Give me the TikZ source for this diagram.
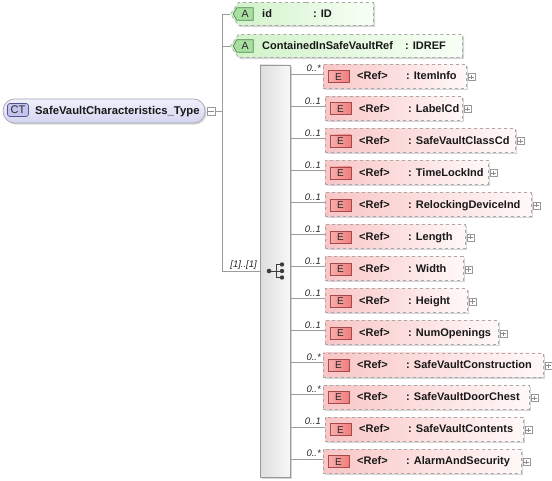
\documentclass[tikz,border=0pt]{standalone}
\usepackage{fontspec}
\setmainfont{Liberation Sans}
\usetikzlibrary{shapes.symbols,shadows}
\definecolor{conn}{HTML}{9C9C9C}
\definecolor{dashg}{HTML}{A8A8A8}
\definecolor{elL}{HTML}{F9C6C6}
\definecolor{elR}{HTML}{FFF8F8}
\definecolor{ebL}{HTML}{F6AFAF}
\definecolor{ebR}{HTML}{F07E7E}
\definecolor{ebD}{HTML}{A84848}
\definecolor{atL}{HTML}{D0F2C8}
\definecolor{atR}{HTML}{F8FFF6}
\definecolor{abF}{HTML}{A9DFA0}
\definecolor{abD}{HTML}{4E8A54}
\definecolor{ctT}{HTML}{F0F0FB}
\definecolor{ctB}{HTML}{D4D4F0}
\definecolor{ctD}{HTML}{A6A6B8}
\definecolor{cbF}{HTML}{C4C4EE}
\definecolor{cbD}{HTML}{55558E}
\definecolor{symb}{HTML}{3C3C3C}
\begin{document}
\begin{tikzpicture}[x=1pt,y=-1pt,
  font=\fontsize{11}{13}\selectfont\bfseries,
  shad/.style={drop shadow={shadow xshift=1.6pt,shadow yshift=-1.6pt,fill=black,opacity=0.16}},
  connline/.style={draw=conn,line width=0.7pt},
  txt/.style={inner sep=0pt,anchor=base west,text=black!90},
  occ/.style={inner sep=0pt,anchor=base east,font=\fontsize{9.5}{10}\selectfont\itshape,text=black!85},
  elbox/.style={rectangle,draw=dashg,dashed,line width=0.7pt,left color=elL,right color=elR,
    minimum height=24pt,inner sep=0pt,shad},
  ebadge/.style={rectangle,draw=ebD,line width=0.7pt,left color=ebL,right color=ebR,
    minimum width=21pt,minimum height=12pt,inner sep=0pt,font=\fontsize{10}{11}\selectfont,text=black!85},
  attrbox/.style={signal,signal to=west,signal pointer angle=110,draw=dashg,dashed,line width=0.7pt,
    left color=atL,right color=atR,minimum height=23pt,inner sep=0pt,shad},
  abadge/.style={signal,signal to=west,signal pointer angle=120,draw=abD,line width=0.7pt,fill=abF,
    minimum width=20pt,minimum height=12.5pt,inner sep=0pt,font=\fontsize{10.5}{11}\selectfont,text=black!85},
  ctbox/.style={rectangle,rounded corners=11.5pt,draw=ctD,line width=0.7pt,top color=ctT,bottom color=ctB,
    minimum width=202pt,minimum height=24pt,inner sep=0pt,shad},
  ctbadge/.style={rectangle,rounded corners=2.5pt,draw=cbD,line width=0.7pt,fill=cbF,
    minimum width=21pt,minimum height=13pt,inner sep=0pt,font=\fontsize{11}{12}\selectfont,text=black!85},
  seqbox/.style={rectangle,draw=black!40,line width=0.7pt,left color=black!13,right color=black!3,
    minimum width=30pt,minimum height=412pt,inner sep=0pt,shad},
  smallbox/.style={rectangle,draw=black!40,line width=0.5pt,fill=white,minimum width=7pt,minimum height=7pt,inner sep=0pt},
  plusbox/.style={smallbox,path picture={
    \draw[black!45,line width=0.5pt] ([xshift=1.4pt]path picture bounding box.west) -- ([xshift=-1.4pt]path picture bounding box.east)
      ([yshift=-1.4pt]path picture bounding box.north) -- ([yshift=1.4pt]path picture bounding box.south);}},
  minusbox/.style={smallbox,minimum width=8pt,minimum height=8pt,path picture={
    \draw[black!45,line width=0.5pt] ([xshift=1.4pt]path picture bounding box.west) -- ([xshift=-1.4pt]path picture bounding box.east);}}
]
\useasboundingbox (0,0) rectangle (552,481);

% complex type
\node[ctbox] (ct) at (104,111) {};
\node[ctbadge] (ctb) at (18,110) {CT};
\node[txt,font=\fontsize{11.3}{13}\selectfont\bfseries] (ctt) at (35,115) {SafeVaultCharacteristics\_Type};
\node[minusbox] (ctm) at (211,111) {};

% trunk
\coordinate (jct) at (222,111);
\coordinate (ttop) at (222,14);
\coordinate (tid) at (222,14);
\coordinate (tref) at (222,46);
\coordinate (tbot) at (222,271);
\draw[connline] (ctm.east) -- (jct);
\draw[connline] (ttop) -- (tbot);

% attributes
\node[attrbox,minimum width=143pt,anchor=west] (aid) at (230,14) {};
\node[abadge] (aidb) at (245,14) {A};
\node[txt] (aidn) at (262,18) {id};
\node[txt] (aidt) at (313,18) {: ID};
\draw[connline] (tid) -- (aid.west);

\node[attrbox,minimum width=232pt,anchor=west] (aref) at (230,46) {};
\node[abadge] (arefb) at (245,46) {A};
\node[txt] (arefn) at (262,50) {ContainedInSafeVaultRef};
\node[txt] (areft) at (405,50) {: IDREF};
\draw[connline] (tref) -- (aref.west);

% sequence
\node[seqbox] (seq) at (275,271) {};
\draw[connline] (tbot) -- (seq.west |- tbot);
\node[occ] (seqocc) at (257,268) {[1]..[1]};
\coordinate (sq0) at (269,271);
\coordinate (sq1) at (276,271);
\coordinate (sqa) at (282,264.5);
\coordinate (sqb) at (282,271);
\coordinate (sqc) at (282,277.5);
\draw[symb,line width=0.9pt] (sq0) -- (sq1) (sq1 |- sqa) -- (sq1 |- sqc)
  (sq1 |- sqa) -- (sqa) (sq1) -- (sqb) (sq1 |- sqc) -- (sqc);
\fill[symb] (sq0) circle (2.3pt) (sqa) circle (2.2pt) (sqb) circle (2.2pt) (sqc) circle (2.2pt);

% elements
\foreach \i/\nm/\oc/\s/\w in {
  0/ItemInfo/0..*/0/143,
  1/LabelCd/0..1/2/137,
  2/SafeVaultClassCd/0..1/2/190,
  3/TimeLockInd/0..1/2/163,
  4/RelockingDeviceInd/0..1/2/206,
  5/Length/0..1/2/140,
  6/Width/0..1/2/138,
  7/Height/0..1/2/142,
  8/NumOpenings/0..1/2/173,
  9/SafeVaultConstruction/0..*/0/220,
  10/SafeVaultDoorChest/0..*/0/206,
  11/SafeVaultContents/0..1/2/198,
  12/AlarmAndSecurity/0..*/0/198}{
  \pgfmathsetmacro\ry{74+32.08*\i}
  \pgfmathsetmacro\lx{323+\s}
  \node[elbox,minimum width=\w pt,anchor=west] (e\i) at (\lx,\ry+2.2) {};
  \coordinate (c\i) at (\lx,\ry);
  \draw[connline] (seq.east |- c\i) -- (c\i);
  \node[ebadge] (b\i) at (\lx+15.5,\ry+2.7) {E};
  \node[txt] (r\i) at (\lx+34,\ry+6) {<Ref>};
  \node[txt] (n\i) at (\lx+83,\ry+6) {: \nm};
  \node[plusbox] (p\i) at (\lx+\w+5.5,\ry+3) {};
  \node[occ] (o\i) at (321,\ry-2) {\oc};
}
\end{tikzpicture}
\end{document}
